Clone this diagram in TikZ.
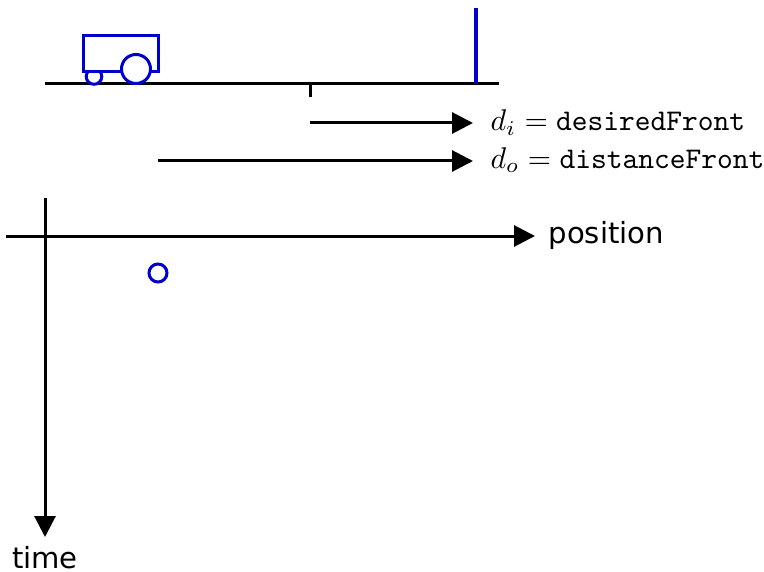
\documentclass[tikz,border=0pt]{standalone}
\usepackage{fontspec}
\newfontfamily\dejavu{DejaVu Sans}
\usetikzlibrary{arrows.meta}
\definecolor{carblue}{RGB}{0,0,205}
\tikzset{
  axis/.style={line width=1pt, -{Triangle[length=7pt,width=7pt]}},
  plain/.style={line width=1pt},
  bluepart/.style={draw=carblue, line width=1pt},
  wheel/.style={bluepart, circle, inner sep=0pt, fill=white},
  lbl/.style={inner sep=0pt, anchor=base west, font=\fontsize{10}{12}\selectfont},
  axlbl/.style={inner sep=0pt, font=\dejavu\fontsize{9.7}{11}\selectfont},
}
\begin{document}
\begin{tikzpicture}[x=0.33333pt, y=-0.33333pt]
\useasboundingbox (0,0) rectangle (764,572);
% ground and car
\coordinate (g1) at (45,84);
\coordinate (g2) at (499,84);
\draw[plain] (g1) -- (g2);
\coordinate (t1) at (310,84);
\coordinate (t2) at (310,97);
\draw[plain] (t1) -- (t2);
\coordinate (w1) at (476,8);
\coordinate (w2) at (476,84);
\draw[draw=carblue, line width=1.3pt] (w1) -- (w2);
\node[wheel, minimum size=5.2pt] (smallwheel) at (94,76.5) {};
\node[bluepart, fill=white, rectangle, inner sep=0pt, minimum width=25pt, minimum height=12.33pt] (body) at (120.5,53.5) {};
\node[wheel, minimum size=9.67pt] (bigwheel) at (136,69) {};
% distance arrows
\node[lbl] (di) at (490,131) {$d_i = \texttt{desiredFront}$};
\node[lbl] (do) at (490,168) {$d_o = \texttt{distanceFront}$};
\coordinate (a1s) at (310,123);
\coordinate (a1e) at (473,123);
\coordinate (a2s) at (158,161);
\coordinate (a2e) at (473,161);
\draw[axis] (a1s) -- (a1e);
\draw[axis] (a2s) -- (a2e);
% axes
\node[axlbl, anchor=west] (pos) at (548,235) {position};
\node[axlbl] (time) at (45,558) {time};
\coordinate (hs) at (6,236);
\coordinate (he) at (535,236);
\coordinate (vs) at (45,198);
\coordinate (ve) at (45,537);
\draw[axis] (hs) -- (he);
\draw[axis] (vs) -- (ve);
\node[bluepart, circle, inner sep=0pt, minimum size=6pt] (pt) at (158,273) {};
\end{tikzpicture}
\end{document}
